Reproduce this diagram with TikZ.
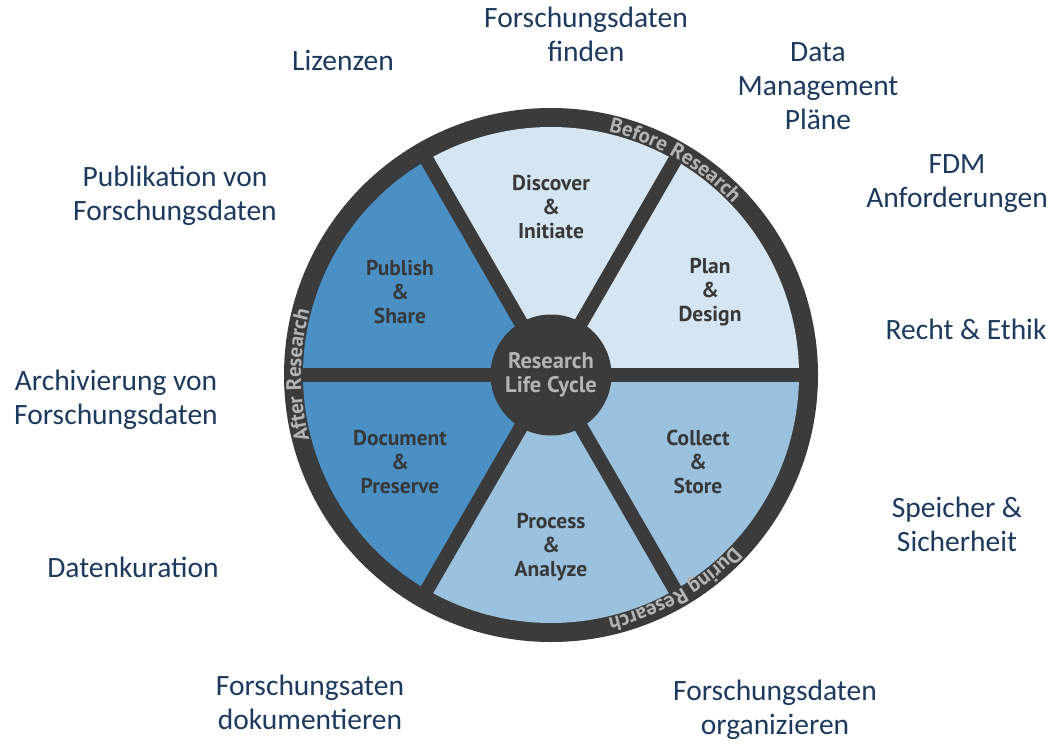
\documentclass[tikz,border=0pt]{standalone}
\usepackage{fontspec}
\setmainfont{Carlito}
\newfontfamily\wedgefont{PT Sans}
\usetikzlibrary{decorations.text}
\definecolor{ringc}{HTML}{3B3B3B}
\definecolor{lightw}{HTML}{D5E5F1}
\definecolor{midw}{HTML}{9AC1DE}
\definecolor{darkw}{HTML}{4A90C5}
\definecolor{wtext}{HTML}{383838}
\definecolor{gtext}{HTML}{B4B4B4}
\definecolor{navy}{HTML}{1C3A5E}
\newcommand{\ringfont}{\wedgefont\bfseries\fontsize{21}{24}\selectfont}
\tikzset{
  label/.style={text=navy, align=center, font=\fontsize{29.5}{34}\selectfont, inner sep=0pt},
  wedgelabel/.style={text=wtext, align=center, font=\wedgefont\bfseries\fontsize{21.5}{24}\selectfont, inner sep=0pt},
  spoke/.style={draw=ringc, line width=14pt},
  ringtext/.style={decorate, decoration={text along path, text align=center, text color=gtext, text={|\ringfont|#1}}}
}
\begin{document}
\begin{tikzpicture}[x=1pt,y=1pt]
\useasboundingbox[fill=white] (0,0) rectangle (1052,-744);
\coordinate (C) at (551,-375);
% outer ring
\fill[ringc] (C) circle[radius=267];
% wedges
\fill[lightw] (C) -- ++(60:248) arc[start angle=60, end angle=120, radius=248] -- cycle;
\fill[lightw] (C) -- ++(0:248) arc[start angle=0, end angle=60, radius=248] -- cycle;
\fill[midw] (C) -- ++(-60:248) arc[start angle=-60, end angle=0, radius=248] -- cycle;
\fill[midw] (C) -- ++(-120:248) arc[start angle=-120, end angle=-60, radius=248] -- cycle;
\fill[darkw] (C) -- ++(180:248) arc[start angle=180, end angle=240, radius=248] -- cycle;
\fill[darkw] (C) -- ++(120:248) arc[start angle=120, end angle=180, radius=248] -- cycle;
% spokes
\foreach \a in {0,60,120} {
  \draw[spoke] (C) ++(\a:258) -- ++(\a+180:516);
}
% center
\node[circle, fill=ringc, minimum size=121pt, inner sep=0pt, text=gtext, align=center,
      font=\wedgefont\bfseries\fontsize{22.5}{24}\selectfont] (center) at (C) {Research\\Life Cycle};
% ring texts
\path[ringtext={Before Research}] (C) ++(95:250) arc[start angle=95, end angle=25, radius=250];
\path[ringtext={During Research}] (C) ++(-25:250) arc[start angle=-25, end angle=-95, radius=250];
\path[ringtext={After Research}] (C) ++(215:250) arc[start angle=215, end angle=145, radius=250];
% wedge labels
\node[wedgelabel] (discover) at (551,-207) {Discover\\\&\\Initiate};
\node[wedgelabel] (plan) at (710,-292) {Plan\\\&\\Design};
\node[wedgelabel] (collect) at (698,-462) {Collect\\\&\\Store};
\node[wedgelabel] (process) at (551,-547) {Process\\\&\\Analyze};
\node[wedgelabel] (document) at (400,-462) {Document\\\&\\Preserve};
\node[wedgelabel] (publish) at (400,-292) {Publish\\\&\\Share};
% outer labels
\node[label] (finden) at (586,-34) {Forschungsdaten\\finden};
\node[label] (lizenzen) at (343,-60) {Lizenzen};
\node[label] (dmp) at (818,-86) {Data\\Management\\Pläne};
\node[label] (fdm) at (957,-184) {FDM\\Anforderungen};
\node[label] (publikation) at (175,-196) {Publikation von\\Forschungsdaten};
\node[label] (recht) at (966,-329) {Recht \& Ethik};
\node[label] (archiv) at (116,-400) {Archivierung von\\Forschungsdaten};
\node[label] (speicher) at (957,-524) {Speicher \&\\Sicherheit};
\node[label] (kuration) at (133,-567) {Datenkuration};
\node[label] (doku) at (310,-702) {Forschungsaten\\dokumentieren};
\node[label] (organ) at (775,-710) {Forschungsdaten\\organizieren};
\end{tikzpicture}
\end{document}
